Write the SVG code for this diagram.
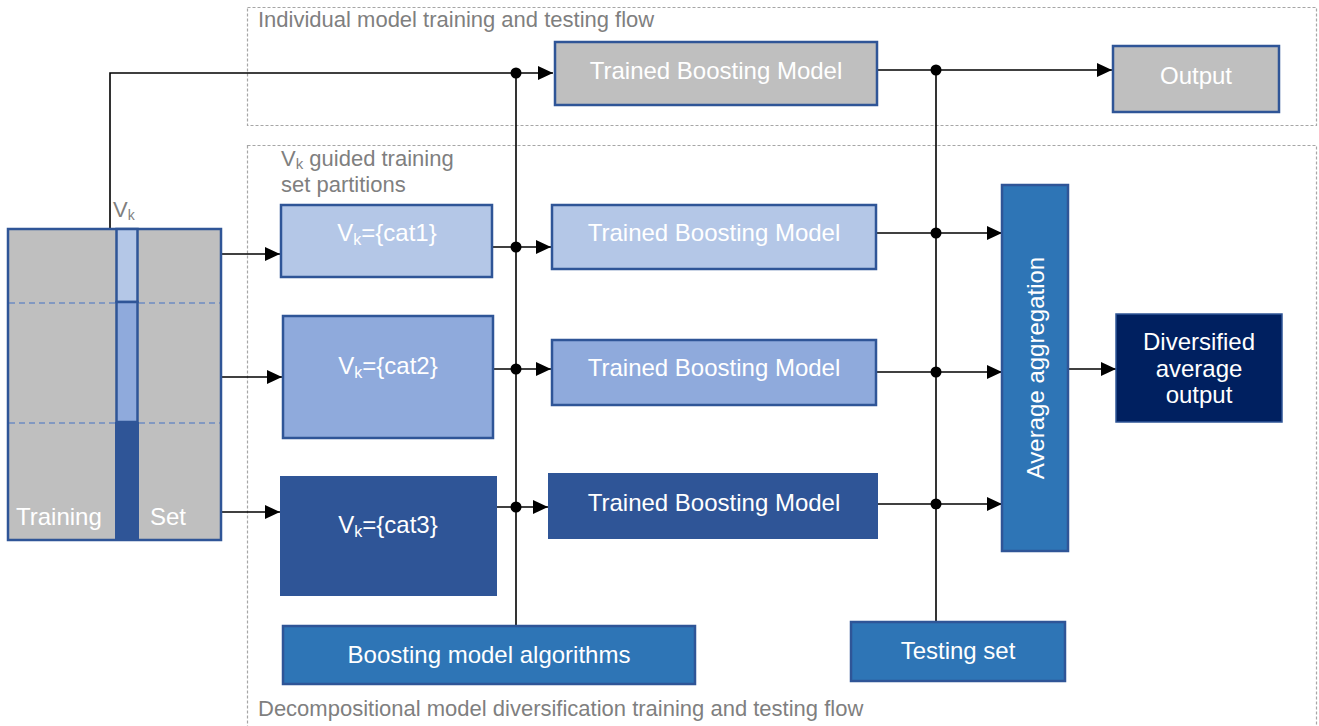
<svg xmlns="http://www.w3.org/2000/svg" width="1319" height="726" viewBox="0 0 1319 726">
<style>
.frame{fill:none;stroke:#A6A6A6;stroke-width:1.2;stroke-dasharray:3,2}
.cap{font-family:"Liberation Sans",Arial,sans-serif;font-size:22px;fill:#7F7F7F}
.lbl{font-family:"Liberation Sans",Arial,sans-serif;font-size:24px;fill:#FFFFFF;text-anchor:middle}
.box{stroke:#2F5597;stroke-width:2.5}
.gray{fill:#BFBFBF}
.c1{fill:#B4C7E7}
.c2{fill:#8FAADC}
.c3{fill:#2F5597}
.mid{fill:#2E75B6}
.navy{fill:#002060}
.ln{fill:none;stroke:#000;stroke-width:1.6}
.arr{marker-end:url(#ah)}
.dot{fill:#000}
.part{stroke:#4472C4;stroke-width:1.2;stroke-dasharray:6,4}
</style>
<defs>
<marker id="ah" markerUnits="userSpaceOnUse" markerWidth="16" markerHeight="14" refX="15" refY="7" orient="auto">
<path d="M0,0 L15,7 L0,14 z" fill="#000"/>
</marker>
</defs>

<g id="frames">
<rect class="frame" x="247.5" y="7.5" width="1069" height="118"/>
<rect class="frame" x="247.5" y="145.5" width="1069" height="590"/>
<text class="cap" x="258" y="27">Individual model training and testing flow</text>
<text class="cap" x="281" y="166">V<tspan font-size="15" dy="3">k</tspan><tspan dy="-3"> guided training</tspan></text>
<text class="cap" x="281" y="192">set partitions</text>
<text class="cap" x="258" y="716">Decompositional model diversification training and testing flow</text>
</g>

<g id="connectors">
<path class="ln arr" d="M101,229 H110 V73 H553"/>
<path class="ln arr" d="M877,70 H1112"/>
<path class="ln" d="M516,73 V626"/>
<path class="ln" d="M936,70 V622"/>
<path class="ln arr" d="M222,254 H280"/>
<path class="ln arr" d="M222,377 H282"/>
<path class="ln arr" d="M222,512 H280"/>
<path class="ln arr" d="M492,247 H551"/>
<path class="ln arr" d="M493,369 H551"/>
<path class="ln arr" d="M497,507 H548"/>
<path class="ln arr" d="M876,233 H1002"/>
<path class="ln arr" d="M876,372 H1002"/>
<path class="ln arr" d="M878,504 H1002"/>
<path class="ln arr" d="M1068,369 H1116"/>
<circle class="dot" cx="516" cy="73" r="5.5"/>
<circle class="dot" cx="936" cy="70" r="5.5"/>
<circle class="dot" cx="516" cy="247" r="5.5"/>
<circle class="dot" cx="516" cy="369" r="5.5"/>
<circle class="dot" cx="516" cy="507" r="5.5"/>
<circle class="dot" cx="936" cy="233" r="5.5"/>
<circle class="dot" cx="936" cy="372" r="5.5"/>
<circle class="dot" cx="936" cy="504" r="5.5"/>
</g>

<g id="training-set">
<rect class="box gray" x="8" y="229" width="213" height="311"/>
<line class="part" x1="9" y1="303" x2="220" y2="303"/>
<line class="part" x1="9" y1="423" x2="220" y2="423"/>
<rect class="box c1" x="116.5" y="229" width="21" height="73"/>
<rect class="box c2" x="116.5" y="302" width="21" height="120"/>
<rect class="c3" x="115" y="422" width="24" height="119"/>
<text class="lbl" x="16" y="525" style="text-anchor:start">Training</text>
<text class="lbl" x="150" y="525" style="text-anchor:start">Set</text>
<text class="cap" x="113" y="217" font-size="21">V<tspan font-size="14" dy="3">k</tspan></text>
</g>

<g id="top-model">
<rect class="box gray" x="555" y="42" width="322" height="63"/>
<text class="lbl" x="716" y="79">Trained Boosting Model</text>
</g>

<g id="output">
<rect class="box gray" x="1113" y="46" width="166" height="66"/>
<text class="lbl" x="1196" y="84">Output</text>
</g>

<g id="part-cat1">
<rect class="box c1" x="281" y="205" width="211" height="72"/>
<text class="lbl" x="387" y="241">V<tspan font-size="16" dy="4">k</tspan><tspan dy="-4">={cat1}</tspan></text>
</g>
<g id="part-cat2">
<rect class="box c2" x="283" y="316" width="210" height="122"/>
<text class="lbl" x="388" y="374">V<tspan font-size="16" dy="4">k</tspan><tspan dy="-4">={cat2}</tspan></text>
</g>
<g id="part-cat3">
<rect class="c3" x="280" y="476" width="217" height="120"/>
<text class="lbl" x="388" y="533">V<tspan font-size="16" dy="4">k</tspan><tspan dy="-4">={cat3}</tspan></text>
</g>

<g id="model-1">
<rect class="box c1" x="552" y="205" width="324" height="64"/>
<text class="lbl" x="714" y="241">Trained Boosting Model</text>
</g>
<g id="model-2">
<rect class="box c2" x="552" y="340" width="324" height="65"/>
<text class="lbl" x="714" y="376">Trained Boosting Model</text>
</g>
<g id="model-3">
<rect class="c3" x="548" y="473" width="330" height="66"/>
<text class="lbl" x="714" y="511">Trained Boosting Model</text>
</g>

<g id="aggregation">
<rect class="box mid" x="1002" y="185" width="66" height="366"/>
<text class="lbl" transform="translate(1044,368) rotate(-90)" x="0" y="0">Average aggregation</text>
</g>

<g id="diversified-output">
<rect class="box navy" x="1116" y="314" width="166" height="108" style="stroke:#2F5597;stroke-width:1.5"/>
<text class="lbl" x="1199" y="350">Diversified</text>
<text class="lbl" x="1199" y="377">average</text>
<text class="lbl" x="1199" y="403">output</text>
</g>

<g id="boosting-algorithms">
<rect class="box mid" x="283" y="626" width="412" height="58"/>
<text class="lbl" x="489" y="663">Boosting model algorithms</text>
</g>

<g id="testing-set">
<rect class="box mid" x="851" y="622" width="214" height="59"/>
<text class="lbl" x="958" y="659">Testing set</text>
</g>
</svg>
